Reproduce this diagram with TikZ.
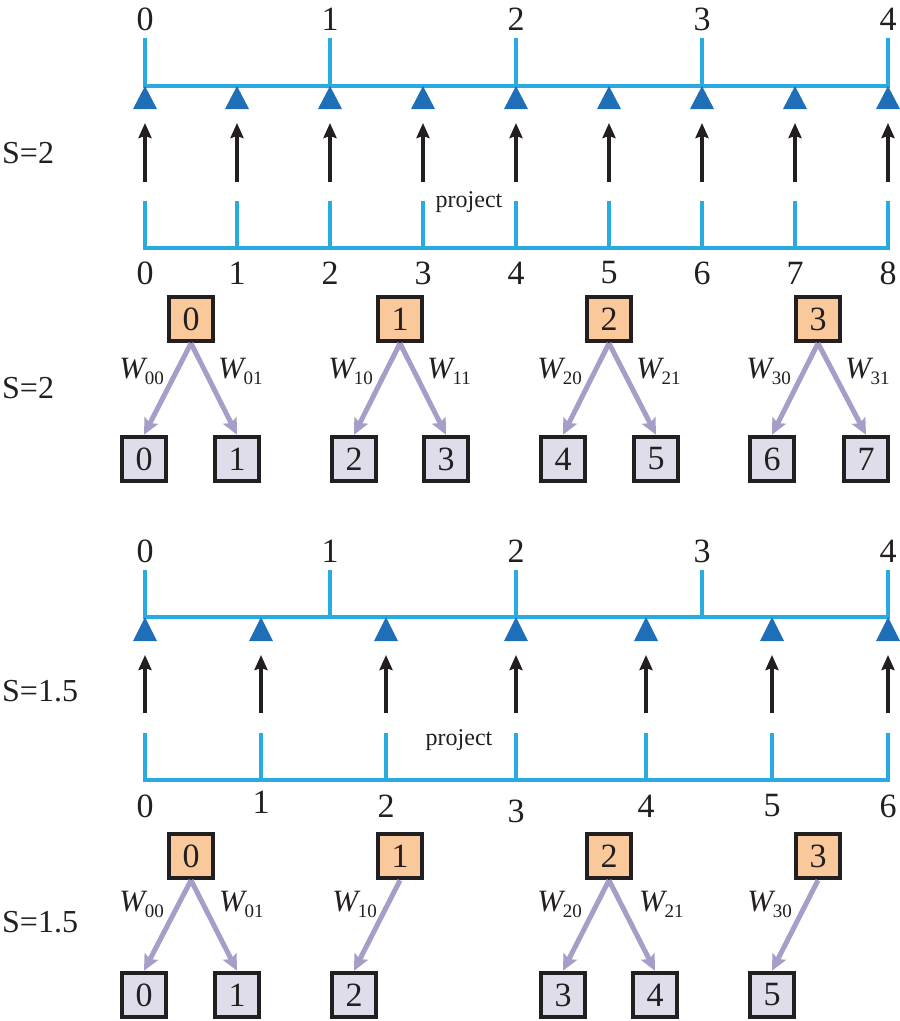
\documentclass[tikz,border=0pt]{standalone}
\usepackage{fontspec}
\setmainfont{Liberation Serif}
\usetikzlibrary{arrows.meta}
\definecolor{axisblue}{RGB}{41,171,226}
\definecolor{tridark}{RGB}{30,110,184}
\definecolor{parfill}{RGB}{249,200,155}
\definecolor{chfill}{RGB}{224,221,234}
\definecolor{lav}{RGB}{166,158,201}
\definecolor{ink}{RGB}{35,31,32}
\newcommand{\wlab}[1]{{\fontsize{31}{36}\selectfont\itshape W}\kern-0.5pt\raisebox{-6pt}{\fontsize{19}{19}\selectfont #1}}
\begin{document}
\begin{tikzpicture}[x=1pt,y=-1pt,
  axline/.style={axisblue, line width=4pt},
  liftarrow/.style={ink, line width=3.5pt, -{Stealth[length=15pt,width=13pt,inset=2pt]}},
  numlab/.style={font=\fontsize{34}{40}\selectfont, text=ink, inner sep=0pt},
  slab/.style={font=\fontsize{32}{38}\selectfont, text=ink, inner sep=0pt, anchor=west},
  proj/.style={font=\fontsize{24}{28}\selectfont, text=ink, inner sep=0pt},
  pbox/.style={draw=ink, line width=4.5pt, fill=parfill, minimum size=44pt, inner sep=0pt, font=\fontsize{34}{40}\selectfont, text=ink},
  cbox/.style={pbox, fill=chfill},
  wlink/.style={lav, line width=5pt, -{Stealth[length=16pt,width=15pt,inset=3pt]}},
  wl/.style={text=ink, inner sep=0pt},
]
\useasboundingbox (0,0) rectangle (900,1021);

% ================= Section 1 (S=2) =================
\draw[axline] (145,38) -- (145,86) -- (888,86) -- (888,38);
\foreach \x in {330,516,702} \draw[axline] (\x,38) -- (\x,86);
\foreach \x/\t in {145/0,330/1,516/2,702/3,888/4}
  \node[numlab] (ta\t) at (\x,19) {\t};
\foreach \x in {145,237,330,423,516,609,702,795,888}
  \fill[tridark] (\x,86) -- (\x-12,109) -- (\x+12,109) -- cycle;
\foreach \x [count=\i] in {145,237,330,423,516,609,702,795,888} {
  \coordinate (sa\i) at (\x,182);
  \coordinate (ea\i) at (\x,123);
  \draw[liftarrow] (sa\i) -- (ea\i);
}
\draw[axline] (145,201) -- (145,248) -- (888,248) -- (888,201);
\foreach \x in {237,330,423,516,609,702,795} \draw[axline] (\x,201) -- (\x,248);
\foreach \x/\t in {145/0,237/1,330/2,423/3,516/4,609/5,702/6,795/7,888/8}
  \node[numlab] (ba\t) at (\x,273) {\t};
\node[proj] (proja) at (469,202) {project};
\node[slab] (s1) at (2,153) {S=2};
\node[slab] (s2) at (2,388) {S=2};

% boxes section 1
\foreach \x/\t in {191/0,400/1,609/2,818/3}
  \node[pbox] (pa\t) at (\x,319) {\t};
\foreach \x/\t in {144/0,237/1,354/2,446/3,563/4,656/5,772/6,866/7}
  \node[cbox] (ca\t) at (\x,459) {\t};
\foreach \p/\a/\b in {0/0/1,1/2/3,2/4/5,3/6/7} {
  \draw[wlink] (pa\p.south) -- (ca\a.north);
  \draw[wlink] (pa\p.south) -- (ca\b.north);
}
\foreach \x/\p in {191/0,400/1,609/2,818/3} {
  \node[wl, anchor=base east] (wla\p) at (\x-27,378) {\wlab{\p0}};
  \node[wl, anchor=base west] (wra\p) at (\x+27,378) {\wlab{\p1}};
}

% ================= Section 2 (S=1.5) =================
\draw[axline] (145,570) -- (145,617) -- (888,617) -- (888,570);
\foreach \x in {330,516,702} \draw[axline] (\x,570) -- (\x,617);
\foreach \x/\t in {145/0,330/1,516/2,702/3,888/4}
  \node[numlab] (tb\t) at (\x,551) {\t};
\foreach \x in {145,261,386,516,646,772,888}
  \fill[tridark] (\x,617) -- (\x-12,641) -- (\x+12,641) -- cycle;
\foreach \x [count=\i] in {145,261,386,516,646,772,888} {
  \coordinate (sb\i) at (\x,713);
  \coordinate (eb\i) at (\x,655);
  \draw[liftarrow] (sb\i) -- (eb\i);
}
\draw[axline] (145,733) -- (145,780) -- (888,780) -- (888,733);
\foreach \x in {261,386,516,646,772} \draw[axline] (\x,733) -- (\x,780);
\foreach \x/\y/\t in {145/806/0,261/802/1,386/806/2,516/811/3,646/806/4,772/806/5,888/806/6}
  \node[numlab] (bb\t) at (\x,\y) {\t};
\node[proj] (projb) at (459,740) {project};
\node[slab] (s3) at (2,691) {S=1.5};
\node[slab] (s4) at (2,922) {S=1.5};

% boxes section 2
\foreach \x/\t in {191/0,400/1,609/2,818/3}
  \node[pbox] (pb\t) at (\x,856) {\t};
\foreach \x/\t in {144/0,237/1,354/2,563/3,655/4,772/5}
  \node[cbox] (cb\t) at (\x,995) {\t};
\draw[wlink] (pb0.south) -- (cb0.north);
\draw[wlink] (pb0.south) -- (cb1.north);
\draw[wlink] (pb1.south) -- (cb2.north);
\draw[wlink] (pb2.south) -- (cb3.north);
\draw[wlink] (pb2.south) -- (cb4.north);
\draw[wlink] (pb3.south) -- (cb5.north);
\node[wl, anchor=base east] (wlb0) at (164,911) {\wlab{00}};
\node[wl, anchor=base west] (wrb0) at (219,911) {\wlab{01}};
\node[wl, anchor=base east] (wlb1) at (377,911) {\wlab{10}};
\node[wl, anchor=base east] (wlb2) at (582,911) {\wlab{20}};
\node[wl, anchor=base west] (wrb2) at (639,911) {\wlab{21}};
\node[wl, anchor=base east] (wlb3) at (792,911) {\wlab{30}};
\end{tikzpicture}
\end{document}
